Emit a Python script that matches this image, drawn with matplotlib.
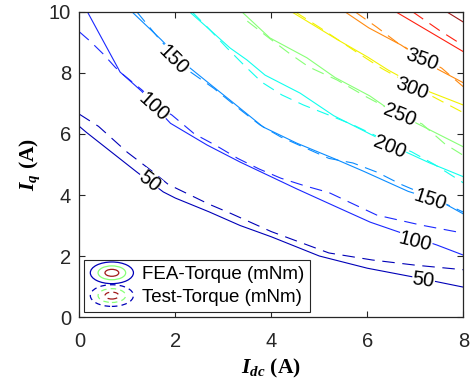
import matplotlib
matplotlib.use('Agg')
import matplotlib.pyplot as plt
from matplotlib.legend_handler import HandlerBase
from matplotlib.patches import Ellipse
from matplotlib.lines import Line2D

plt.rcParams['font.family'] = ['Liberation Sans', 'DejaVu Sans']
plt.rcParams['mathtext.fontset'] = 'custom'
plt.rcParams['mathtext.it'] = 'Liberation Serif:bold:italic'
plt.rcParams['mathtext.rm'] = 'Liberation Serif:bold'
plt.rcParams['lines.scale_dashes'] = False

# ---- contour levels (mNm) and colours ----
levels = [50, 100, 150, 200, 250, 300, 350, 400, 450]
colors = ['#0000b8', '#1a28ff', '#0a8cff', '#10ffee', '#88ff77',
          '#f2f200', '#ff8a10', '#ff2010', '#a01818']

# ---- FEA contours (solid): Idc (A), Iq (A) ----
fea_x = {
    50:  [0, 0.15, 1.2, 1.75, 2.0, 2.7, 3.35, 4.0, 5.0, 6.0, 7.0, 8.0],
    100: [0.17, 0.85, 1.3, 1.75, 1.9, 2.66, 3.35, 4.53, 5.37, 6.06, 7.0, 7.45, 8.0],
    150: [1.1, 1.7, 2.2, 2.75, 3.14, 3.83, 4.53, 5.33, 5.92, 6.85, 7.55, 8.0],
    200: [2.3, 2.66, 3.14, 3.49, 3.87, 4.6, 5.3, 6.12, 6.72, 7.3, 8.0],
    250: [3.39, 3.97, 4.74, 5.33, 6.05, 6.37, 7.03, 8.0],
    300: [4.43, 5.37, 6.01, 6.43, 7.2, 8.0],
    350: [5.54, 6.03, 6.7, 7.46, 8.0],
    400: [6.6, 8.0],
    450: [7.66, 8.0],
}
fea_y = {
    50:  [6.25, 6.05, 4.75, 4.1, 3.9, 3.45, 3.0, 2.63, 2.0, 1.6, 1.3, 0.98],
    100: [10, 8.03, 7.4, 6.6, 6.35, 5.64, 5.08, 4.2, 3.6, 3.11, 2.6, 2.36, 2.03],
    150: [10, 9.1, 8.3, 7.6, 7.11, 6.23, 5.7, 5.18, 4.78, 4.12, 3.77, 3.38],
    200: [10, 9.5, 8.82, 8.43, 7.93, 7.34, 6.6, 5.95, 5.47, 5.05, 4.6],
    250: [10, 9.15, 8.5, 7.85, 7.25, 6.9, 6.35, 5.58],
    300: [10, 9.1, 8.52, 8.1, 7.44, 6.95],
    350: [10, 9.48, 8.92, 8.13, 7.68],
    400: [10, 8.7],
    450: [10, 9.67],
}

# ---- Test contours (dashed) ----
test_x = {
    50:  [0, 0.4, 1.0, 1.5, 1.85, 2.7, 3.15, 4.0, 5.2, 6.1, 7.0, 8.0],
    100: [0, 0.22, 0.5, 0.74, 0.85, 1.3, 1.75, 1.93, 2.4, 2.85, 3.3, 3.75, 4.2,
          4.7, 5.2, 6.2, 7.1, 8.0],
    150: [1.2, 1.7, 2.3, 2.8, 3.35, 3.76, 4.2, 4.7, 5.2, 5.7, 6.2, 6.7, 7.3, 8.0],
    200: [2.35, 2.7, 3.07, 3.43, 3.8, 4.22, 4.67, 5.2, 5.7, 6.3, 6.93, 7.4, 8.0],
    250: [3.5, 3.95, 4.37, 4.78, 5.37, 6.0, 6.6, 7.14, 7.62, 8.0],
    300: [4.5, 5.0, 5.8, 6.3, 7.3, 8.0],
    350: [5.75, 6.2, 6.62, 7.1, 7.55, 8.0],
    400: [6.95, 7.5, 8.0],
}
test_y = {
    50:  [6.65, 6.25, 5.4, 4.8, 4.35, 3.7, 3.4, 2.8, 2.1, 1.87, 1.7, 1.55],
    100: [9.35, 9.05, 8.62, 8.2, 8.03, 7.45, 6.8, 6.62, 6.0, 5.62, 5.2, 4.85, 4.55,
          4.3, 4.08, 3.34, 3.02, 2.75],
    150: [10, 9.05, 8.05, 7.5, 6.8, 6.3, 5.9, 5.55, 5.2, 5.05, 4.75, 4.35, 3.95, 3.44],
    200: [10, 9.45, 8.83, 8.26, 7.7, 7.28, 6.95, 6.62, 6.3, 5.85, 5.41, 5.0, 4.4],
    250: [9.7, 9.15, 8.65, 8.2, 7.77, 7.2, 6.7, 6.33, 5.67, 5.3],
    300: [10, 9.5, 8.66, 8.15, 7.28, 6.7],
    350: [10, 9.5, 9.0, 8.55, 8.16, 7.55],
    400: [10, 9.4, 8.9],
}

# ---- inline contour labels: level, Idc, Iq, rotation ----
lab_lvl = [50, 50, 100, 100, 150, 150, 200, 250, 300, 350]
lab_x = [1.45, 7.17, 1.54, 7.0, 1.96, 7.3, 6.47, 6.68, 6.93, 7.14]
lab_y = [4.43, 1.2, 6.89, 2.46, 8.43, 3.83, 5.57, 6.62, 7.5, 8.43]
lab_rot = [-38, -8, -42, -14, -45, -18, -22, -22, -20, -20]


class EllipseHandler(HandlerBase):
    """Concentric ellipses, like the MATLAB contour legend icon."""
    def __init__(self, ls):
        super().__init__()
        self.ls = ls

    def create_artists(self, legend, orig_handle, xdescent, ydescent,
                       width, height, fontsize, trans):
        cx = width / 2 - xdescent
        cy = height / 2 - ydescent
        arts = []
        for f, c in zip([1.0, 0.64, 0.32], ['#0000b8', '#88ff77', '#a01818']):
            e = Ellipse((cx, cy), width * f, height * 1.65 * f, fill=False,
                        ec=c, lw=0.9, ls=self.ls, transform=trans)
            arts.append(e)
        return arts


fig = plt.figure(figsize=(4.73, 3.83), dpi=100)
ax = fig.add_axes([0.1677, 0.1723, 0.8118, 0.7964])

for lvl, c in zip(levels, colors):
    ax.plot(fea_x[lvl], fea_y[lvl], color=c, lw=0.8, zorder=2)
    if lvl in test_x:
        ax.plot(test_x[lvl], test_y[lvl], color=c, lw=0.8, ls='--',
                dashes=(9, 5.5), zorder=2)

for lvl, x, y, r in zip(lab_lvl, lab_x, lab_y, lab_rot):
    ax.text(x, y, str(lvl), fontsize=14.5, rotation=r, ha='center', va='center',
            rotation_mode='anchor', zorder=3,
            bbox=dict(fc='white', ec='none', pad=0.3))

ax.set_xlim(0, 8)
ax.set_ylim(0, 10)
ax.set_xticks([0, 2, 4, 6, 8])
ax.set_yticks([0, 2, 4, 6, 8, 10])
ax.tick_params(direction='in', top=True, right=True, length=4, width=0.8,
               labelsize=14.5, labelcolor='#262626', color='#262626')
ax.tick_params(axis='x', pad=11)
ax.tick_params(axis='y', pad=6)
for s in ax.spines.values():
    s.set_linewidth(0.9)
    s.set_color('#262626')

ax.set_xlabel(r'$I_{dc}\ \mathrm{(A)}$', fontsize=15.5, labelpad=4)
ax.set_ylabel(r'$I_q\ \mathrm{(A)}$', fontsize=15.5, labelpad=5)

h_fea = Line2D([], [])
h_test = Line2D([], [])
leg = ax.legend([h_fea, h_test], ['FEA-Torque (mNm)', 'Test-Torque (mNm)'],
                handler_map={h_fea: EllipseHandler('-'), h_test: EllipseHandler((0, (4, 3)))},
                loc='lower left', bbox_to_anchor=(0.013, 0.016), borderaxespad=0,
                fontsize=13.5, handlelength=2.3, handletextpad=0.45, labelspacing=0.3,
                borderpad=0.32, fancybox=False, framealpha=1, edgecolor='#262626')
leg.get_frame().set_linewidth(0.8)
leg.set_zorder(5)

fig.savefig('out.png', dpi=100)
